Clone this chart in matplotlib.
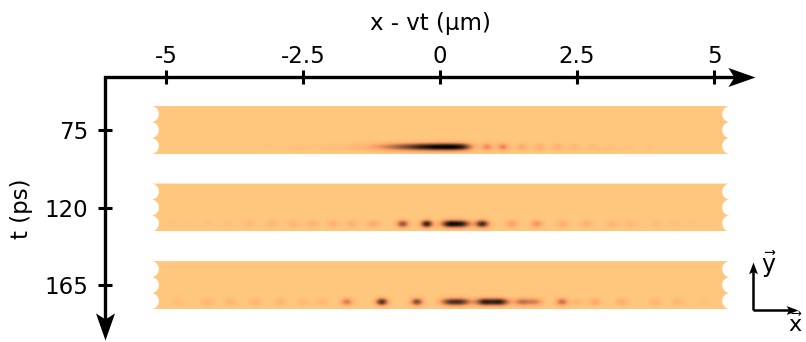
import numpy as np
import matplotlib
matplotlib.use("Agg")
import matplotlib.pyplot as plt
from matplotlib.path import Path
from matplotlib.markers import MarkerStyle

plt.rcParams['font.family'] = ['DejaVu Sans']
plt.rcParams['mathtext.fontset'] = 'dejavusans'

# Snapshot times (ps) and axis tick labels
times = [75, 120, 165]
x_ticks = [-5, -2.5, 0, 2.5, 5]
x_tick_labels = ['-5', '-2.5', '0', '2.5', '5']
t_tick_labels = ['75', '120', '165']

# Intensity spots along x - vt (µm): centre, peak intensity, width (µm)
pos_75 = [-3.10, -2.55, -2.01, -1.55, -1.19, -0.91, -0.64, -0.36, -0.09, 0.18, 0.42,
          0.86, 1.15, 1.50, 1.82, 2.15, 2.46, 2.79, 3.10, 3.47, 3.83]
amp_75 = [0.02, 0.03, 0.05, 0.08, 0.15, 0.27, 0.45, 0.62, 0.72, 0.78, 0.60,
          0.28, 0.30, 0.15, 0.13, 0.12, 0.08, 0.06, 0.05, 0.03, 0.03]
wid_75 = [0.15] * 10 + [0.13] + [0.075] * 10

pos_120 = [-4.87, -4.56, -4.25, -3.89, -3.47, -3.07, -2.68, -2.32, -1.95, -1.61,
           -1.22, -0.68, -0.24, 0.18, 0.40, 0.77, 1.31, 1.77, 2.24, 2.68,
           3.14, 3.47, 3.96, 4.29, 4.62]
amp_120 = [0.03, 0.03, 0.03, 0.04, 0.07, 0.09, 0.10, 0.11, 0.12, 0.12,
           0.15, 0.55, 0.85, 0.85, 0.75, 0.80, 0.20, 0.25, 0.13, 0.12,
           0.10, 0.08, 0.05, 0.05, 0.03]
wid_120 = [0.075] * 13 + [0.11, 0.11] + [0.085] + [0.075] * 9

pos_165 = [-4.80, -4.25, -3.83, -3.38, -2.92, -2.50, -2.15, -1.70, -1.06, -0.42,
           0.18, 0.40, 0.82, 1.09, 1.50, 1.73, 2.23, 2.50, 2.83, 3.32,
           3.92, 4.34, 4.80]
amp_165 = [0.06, 0.09, 0.10, 0.10, 0.10, 0.08, 0.08, 0.35, 0.75, 0.60,
           0.60, 0.60, 0.80, 0.80, 0.40, 0.32, 0.40, 0.10, 0.15, 0.15,
           0.10, 0.10, 0.04]
wid_165 = [0.075] * 10 + [0.12, 0.12, 0.12, 0.12, 0.10, 0.10] + [0.075] * 7

spots = [(pos_75, amp_75, wid_75), (pos_120, amp_120, wid_120), (pos_165, amp_165, wid_165)]

# Strip geometry
x0, x1 = -5.27, 5.29          # strip ends (µm)
half_h = 13.9                 # half height of each strip (ps units)
row_off = 9.9                 # spot row below strip centre
row_sig = 1.5                 # vertical spread of a spot
bite = 0.14                   # depth of scalloped cut at strip ends

FS = 16.5
W, H, DPI = 806, 342, 100
fig = plt.figure(figsize=(W / DPI, H / DPI), dpi=DPI)

# main axes: left edge is the t axis, top edge is the x axis
ax = fig.add_axes([105 / W, 2 / H, 650 / W, 263 / H])
ax.set_xlim(-6.113, 5.748)
ax.set_ylim(196.9, 44.23)
for s in ax.spines.values():
    s.set_visible(False)
ax.patch.set_alpha(0)

xs = np.linspace(x0, x1, 1000)
for tc, (pos, amp, wid) in zip(times, spots):
    tt = np.linspace(tc - half_h, tc + half_h, 80)
    X, T = np.meshgrid(xs, tt)
    img = np.zeros_like(X)
    for p, a, w in zip(pos, amp, wid):
        img += a * np.exp(-0.5 * ((X - p) / w) ** 2 - 0.5 * ((T - tc - row_off) / row_sig) ** 2)
    img = np.clip(img, 0, 1)
    im = ax.imshow(img, cmap='copper_r', vmin=0, vmax=1, origin='upper',
                   extent=(x0, x1, tt[-1], tt[0]), aspect='auto',
                   interpolation='bilinear', zorder=1)
    # scalloped strip outline: three round bites at each end
    period = (tt[-1] - tt[0]) / 3
    ty = np.linspace(tt[0], tt[-1], 600)
    phase = ((ty - tt[0]) % period) / period * 2 - 1
    prof = bite * np.sqrt(np.clip(1 - phase ** 2, 0, 1))
    lx = x0 + prof
    rx = x1 - prof
    verts = np.vstack([np.column_stack([lx, ty]), np.column_stack([rx[::-1], ty[::-1]])])
    clip = Path(np.vstack([verts, verts[:1]]), closed=True)
    im.set_clip_path(clip, ax.transData)

ax.set_xticks(x_ticks)
ax.set_xticklabels(x_tick_labels)
ax.set_yticks(times)
ax.set_yticklabels(t_tick_labels)
ax.tick_params(axis='x', top=True, bottom=False, labeltop=True, labelbottom=False,
               direction='inout', length=10, width=2.2, pad=1.5, labelsize=FS)
ax.tick_params(axis='y', left=True, right=False, direction='inout',
               length=10, width=2.2, pad=7, labelsize=FS)
ax.xaxis.set_label_position('top')
ax.set_xlabel('x - vt (µm)', fontsize=FS, labelpad=11)
ax.set_ylabel('t (ps)', fontsize=FS, labelpad=8)

# axis lines with stealth arrowheads
ax.plot([1 - 12 / 650, 0, 0], [1, 1, 12 / 263], transform=ax.transAxes, color='k',
        lw=2.4, clip_on=False, solid_joinstyle='miter', solid_capstyle='butt', zorder=3)
head_r = Path([(0, 0), (-27, 9.5), (-21, 0), (-27, -9.5), (0, 0)],
              [Path.MOVETO, Path.LINETO, Path.LINETO, Path.LINETO, Path.CLOSEPOLY])
head_d = Path([(0, 0), (9.5, 27), (0, 21), (-9.5, 27), (0, 0)],
              [Path.MOVETO, Path.LINETO, Path.LINETO, Path.LINETO, Path.CLOSEPOLY])
ax.plot([1], [1], transform=ax.transAxes, marker=MarkerStyle(head_r), ms=39,
        color='k', mec='k', mew=0, clip_on=False, zorder=4)
ax.plot([0], [0], transform=ax.transAxes, marker=MarkerStyle(head_d), ms=39,
        color='k', mec='k', mew=0, clip_on=False, zorder=4)

# orientation sketch in the lower right corner (pixel coordinates)
ov = fig.add_axes([0, 0, 1, 1])
ov.set_xlim(0, W)
ov.set_ylim(H, 0)
ov.axis('off')
ov.plot([753, 753], [266, 310], color='k', lw=1.8, solid_capstyle='butt')
ov.plot([753, 794], [310, 310], color='k', lw=1.8, solid_capstyle='butt')
head_up = Path([(0, 0), (-4.5, -12), (0, -9.5), (4.5, -12), (0, 0)],
               [Path.MOVETO, Path.LINETO, Path.LINETO, Path.LINETO, Path.CLOSEPOLY])
head_rt = Path([(0, 0), (-12, 4.5), (-9.5, 0), (-12, -4.5), (0, 0)],
               [Path.MOVETO, Path.LINETO, Path.LINETO, Path.LINETO, Path.CLOSEPOLY])
ov.plot([753], [262], marker=MarkerStyle(head_up), ms=17, color='k', mew=0)
ov.plot([798], [310], marker=MarkerStyle(head_rt), ms=17, color='k', mew=0)
ov.text(769, 265, r'$\vec{\mathrm{y}}$', fontsize=17, ha='center', va='center')
ov.text(796, 324, r'$\vec{\mathrm{x}}$', fontsize=16, ha='center', va='center')

fig.savefig('out.png', dpi=DPI)
